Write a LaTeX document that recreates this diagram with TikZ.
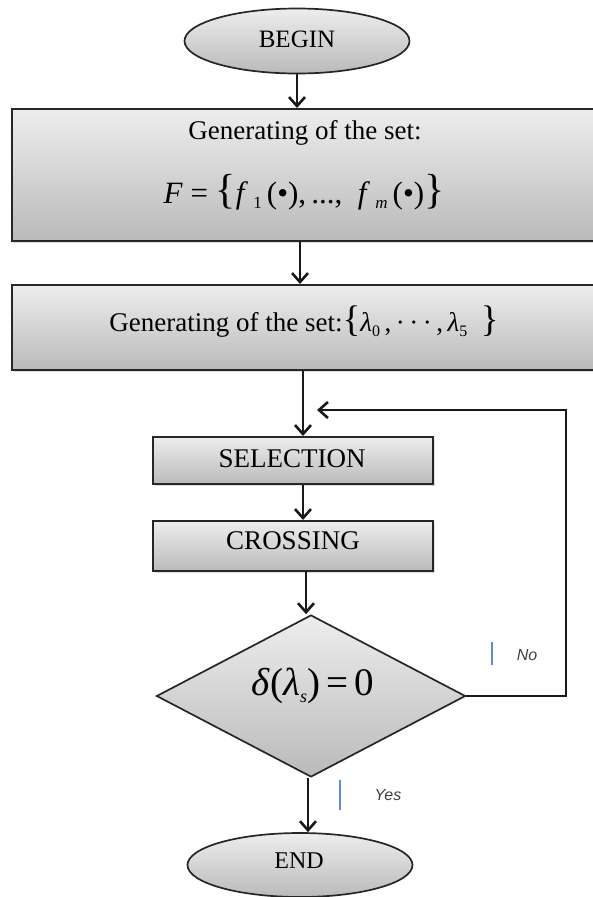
\documentclass[tikz,border=0pt]{standalone}
\usepackage{fontspec}
\setmainfont{Liberation Serif}
\newfontfamily\lblfont{Liberation Sans}
\usetikzlibrary{shapes.geometric,arrows.meta,calc,shadows}
\begin{document}
\begin{tikzpicture}[x=1pt,y=-1pt,
  shade/.style={top color=black!7, bottom color=black!27},
  box/.style={shade, draw=black!85, line width=2pt, inner sep=0pt,
    drop shadow={opacity=0.25, shadow xshift=1.5pt, shadow yshift=-1.5pt}},
  term/.style={shade, draw=black!85, line width=1.7pt, ellipse, inner sep=0pt},
  decide/.style={shade, draw=black!85, line width=1.7pt, diamond, inner sep=0pt},
  arr/.style={line width=2.8pt, draw=black!90, line join=miter,
    -{Straight Barb[length=9pt,width=16pt,line width=2.6pt]}},
  btext/.style={font=\fontsize{27}{32}\selectfont, inner sep=0pt},
  ctext/.style={font=\fontsize{27}{32}\selectfont, inner sep=0pt},
  tickmark/.style={draw={rgb,255:red,95;green,140;blue,205}, line width=1.6pt},
  lbl/.style={font=\lblfont\itshape\fontsize{16}{18}\selectfont, text=black!75, inner sep=0pt}
]
\useasboundingbox (0,0) rectangle (593,897);

% nodes
\node[term, minimum width=225pt, minimum height=65pt] (begin) at (297,41) {};
\node[ctext, font=\fontsize{25}{30}\selectfont] (tbegin) at (297,39) {BEGIN};

\node[box, minimum width=590pt, minimum height=132pt] (box1) at (307,175) {};
\node[btext] (t1a) at (305,133) {Generating of the set:};
\node[btext, font=\fontsize{31}{36}\selectfont] (t1b) at (304,192) {\textit{F} = {\fontsize{42}{42}\selectfont\{}\textit{f}\,\raisebox{-5pt}{\fontsize{17}{17}\selectfont 1}\,(•),\,...,\enspace \textit{f}\,\raisebox{-5pt}{\fontsize{17}{17}\selectfont\textit{m}}\,(•){\fontsize{42}{42}\selectfont\}}};

\node[box, minimum width=590pt, minimum height=85pt] (box2) at (307,327.5) {};
\node[btext] (t2) at (304,322) {Generating of the set:{\fontsize{37}{37}\selectfont\{}\textit{λ}\raisebox{-5pt}{\fontsize{16}{16}\selectfont 0}\,,\,·\,·\,·\,,\,\textit{λ}\raisebox{-5pt}{\fontsize{16}{16}\selectfont 5}\enspace{\fontsize{37}{37}\selectfont\}}};

\node[box, minimum width=280pt, minimum height=47pt] (sel) at (293,460.5) {};
\node[ctext] (tsel) at (292,459) {SELECTION};

\node[box, minimum width=280pt, minimum height=50pt] (cross) at (293,546) {};
\node[ctext] (tcross) at (293,541) {CROSSING};

\node[decide, minimum width=309pt, minimum height=162pt] (dia) at (311,696) {};
\node[inner sep=0pt, font=\fontsize{39}{42}\selectfont] (tdia) at (313,686) {\textit{δ}(\textit{λ}\raisebox{-7pt}{\fontsize{18}{18}\selectfont\textit{s}})\,=\,0};

\node[term, minimum width=225pt, minimum height=64pt] (end) at (300,865) {};
\node[btext, font=\fontsize{24}{28}\selectfont] (tend) at (299,861) {END};

% column coordinates
\coordinate (c1) at (300,0);
\coordinate (col) at (303,0);
\coordinate (c3) at (306,0);
\coordinate (c4) at (308,0);
\coordinate (fbR) at (566,410);
\coordinate (fbT) at (317,410);

% connectors
\draw[arr] (begin.south) -- (begin.south |- box1.north);
\draw[arr] (box1.south -| c1) -- (box2.north -| c1);
\draw[arr] (box2.south -| col) -- (sel.north -| col);
\draw[arr] (sel.south -| col) -- (cross.north -| col);
\draw[arr] (cross.south -| c3) -- (dia.north -| c3);
\draw[arr] (dia.south -| c4) -- (end.north -| c4);
\draw[arr] (dia.east) -| (fbR) -- (fbT);

% branch labels
\coordinate (noA) at (492,642);
\coordinate (noB) at (492,665);
\draw[tickmark] (noA) -- (noB);
\node[lbl] (lno) at (527,655) {No};
\coordinate (yesA) at (340,780);
\coordinate (yesB) at (340,810);
\draw[tickmark] (yesA) -- (yesB);
\node[lbl] (lyes) at (388,795) {Yes};
\end{tikzpicture}
\end{document}
